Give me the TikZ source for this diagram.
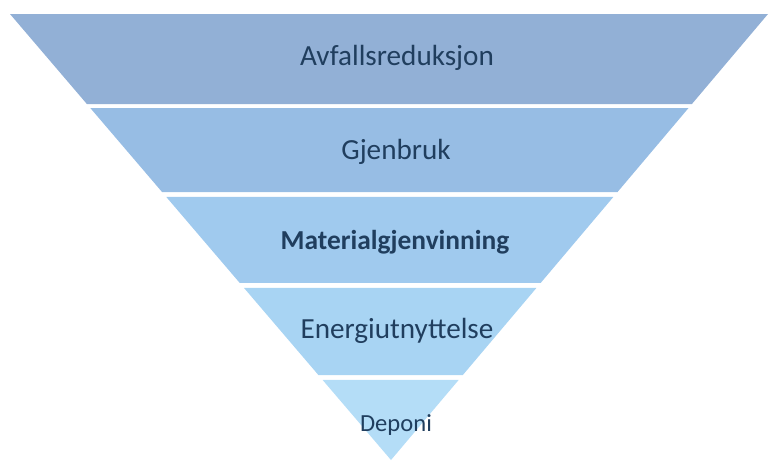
\documentclass[tikz,border=0pt]{standalone}
\usepackage{fontspec}
\setmainfont{Carlito}
\usetikzlibrary{calc, positioning}
\definecolor{tierA}{RGB}{146,176,214}
\definecolor{tierB}{RGB}{151,189,228}
\definecolor{tierC}{RGB}{160,202,238}
\definecolor{tierD}{RGB}{168,212,243}
\definecolor{tierE}{RGB}{180,221,247}
\definecolor{tierink}{RGB}{32,62,94}
\tikzstyle{tiertext} = [
  text=tierink,
  inner sep=0,
  font=\fontsize{16.6}{19}\selectfont
]
\tikzstyle{bottomtext} = [
  text=tierink,
  inner sep=0,
  font=\fontsize{14}{16}\selectfont
]

\begin{document}
\begin{tikzpicture}[x=0.02cm, y=-0.02cm]
      \useasboundingbox (0,0) rectangle (775,461);
      \coordinate (top left) at (10,14);
      \coordinate (top right) at (768,14);
      \coordinate (apex) at (391,460);

      % bands, top to bottom
      \fill [tierA] (top left) -- (top right) -- ($(top right)!0.2018!(apex)$) -- ($(top left)!0.2018!(apex)$) -- cycle;
      \fill [tierB] ($(top left)!0.2108!(apex)$) -- ($(top right)!0.2108!(apex)$) -- ($(top right)!0.3991!(apex)$) -- ($(top left)!0.3991!(apex)$) -- cycle;
      \fill [tierC] ($(top left)!0.4103!(apex)$) -- ($(top right)!0.4103!(apex)$) -- ($(top right)!0.6031!(apex)$) -- ($(top left)!0.6031!(apex)$) -- cycle;
      \fill [tierD] ($(top left)!0.6143!(apex)$) -- ($(top right)!0.6143!(apex)$) -- ($(top right)!0.8094!(apex)$) -- ($(top left)!0.8094!(apex)$) -- cycle;
      \fill [tierE] ($(top left)!0.8206!(apex)$) -- ($(top right)!0.8206!(apex)$) -- (apex) -- cycle;

      \node [tiertext] (reduction) at (397,58) {Avfallsreduksjon};
      \node [tiertext] (reuse) at (396,152) {Gjenbruk};
      \node [tiertext, font=\fontsize{15.6}{18}\selectfont\bfseries] (recycling) at (395,242) {Materialgjenvinning};
      \node [tiertext] (energy) at (397,331) {Energiutnyttelse};
      \node [bottomtext] (landfill) at (396,425) {Deponi};

    \end{tikzpicture}
\end{document}
